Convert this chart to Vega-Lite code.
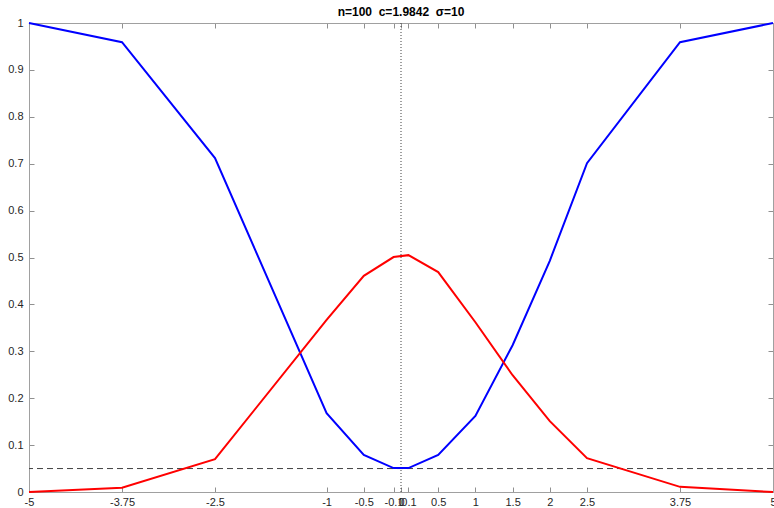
{
  "$schema": "https://vega.github.io/schema/vega-lite/v6.json",
  "autosize": {"type": "none"},
  "padding": {"left": 29, "top": 23, "right": 1, "bottom": 16},
  "width": 744,
  "height": 469,
  "background": "white",
  "title": {"text": "n=100\u00a0\u00a0c=1.9842\u00a0\u00a0σ=10", "fontSize": 12, "fontWeight": "bold", "font": "Liberation Sans", "color": "#000000", "offset": -2, "anchor": "middle"},
  "config": {
    "view": {"stroke": null},
    "axis": {
      "grid": false,
      "domainColor": "#a0a0a0",
      "tickColor": "#909090",
      "labelColor": "#262626",
      "labelFont": "Liberation Sans",
      "labelFontSize": 11,
      "tickSize": -5,
      "title": null
    }
  },
  "datasets": {
    "curves": [
      {"x": -5, "y": 1.0, "series": "blue"},
      {"x": -3.75, "y": 0.959, "series": "blue"},
      {"x": -2.5, "y": 0.712, "series": "blue"},
      {"x": -1, "y": 0.168, "series": "blue"},
      {"x": -0.5, "y": 0.079, "series": "blue"},
      {"x": -0.1, "y": 0.051, "series": "blue"},
      {"x": 0.1, "y": 0.051, "series": "blue"},
      {"x": 0.5, "y": 0.079, "series": "blue"},
      {"x": 1, "y": 0.162, "series": "blue"},
      {"x": 1.5, "y": 0.313, "series": "blue"},
      {"x": 2, "y": 0.493, "series": "blue"},
      {"x": 2.5, "y": 0.701, "series": "blue"},
      {"x": 3.75, "y": 0.959, "series": "blue"},
      {"x": 5, "y": 1.0, "series": "blue"},
      {"x": -5, "y": 0.0, "series": "red"},
      {"x": -3.75, "y": 0.009, "series": "red"},
      {"x": -2.5, "y": 0.070, "series": "red"},
      {"x": -1, "y": 0.367, "series": "red"},
      {"x": -0.5, "y": 0.461, "series": "red"},
      {"x": -0.1, "y": 0.501, "series": "red"},
      {"x": 0.1, "y": 0.505, "series": "red"},
      {"x": 0.5, "y": 0.469, "series": "red"},
      {"x": 1, "y": 0.362, "series": "red"},
      {"x": 1.5, "y": 0.249, "series": "red"},
      {"x": 2, "y": 0.151, "series": "red"},
      {"x": 2.5, "y": 0.072, "series": "red"},
      {"x": 3.75, "y": 0.011, "series": "red"},
      {"x": 5, "y": 0.0, "series": "red"}
    ],
    "hline": [{"y": 0.05}],
    "vline": [{"x": 0}]
  },
  "layer": [
    {
      "data": {"name": "hline"},
      "mark": {"type": "rule", "color": "#404040", "strokeDash": [6, 4], "strokeWidth": 1},
      "encoding": {
        "y": {"field": "y", "type": "quantitative", "scale": {"domain": [0, 1], "nice": false},
              "axis": {"orient": "right", "labels": false, "values": [0,0.1,0.2,0.3,0.4,0.5,0.6,0.7,0.8,0.9,1]}}
      }
    },
    {
      "data": {"name": "vline"},
      "mark": {"type": "rule", "color": "#404040", "strokeDash": [1, 2], "strokeWidth": 1},
      "encoding": {
        "x": {"field": "x", "type": "quantitative", "scale": {"domain": [-5, 5], "nice": false},
              "axis": {"orient": "top", "labels": false, "values": [-5,-3.75,-2.5,-1,-0.5,-0.1,0,0.1,0.5,1,1.5,2,2.5,3.75,5]}}
      }
    },
    {
      "data": {"name": "curves"},
      "mark": {"type": "line", "strokeWidth": 2},
      "encoding": {
        "x": {"field": "x", "type": "quantitative", "scale": {"domain": [-5, 5], "nice": false},
              "axis": {"orient": "bottom", "values": [-5,-3.75,-2.5,-1,-0.5,-0.1,0,0.1,0.5,1,1.5,2,2.5,3.75,5], "labelExpr": "'' + datum.value", "labelPadding": 9, "labelFlush": false, "labelOverlap": false}},
        "y": {"field": "y", "type": "quantitative", "scale": {"domain": [0, 1], "nice": false},
              "axis": {"orient": "left", "values": [0,0.1,0.2,0.3,0.4,0.5,0.6,0.7,0.8,0.9,1], "labelExpr": "'' + datum.value", "labelPadding": 11, "labelFlush": false, "labelOverlap": false}},
        "color": {"field": "series", "type": "nominal", "scale": {"domain": ["blue", "red"], "range": ["#0000ff", "#ff0000"]}, "legend": null},
        "order": {"field": "x", "type": "quantitative"}
      }
    }
  ],
  "resolve": {"axis": {"x": "independent", "y": "independent"}}
}
